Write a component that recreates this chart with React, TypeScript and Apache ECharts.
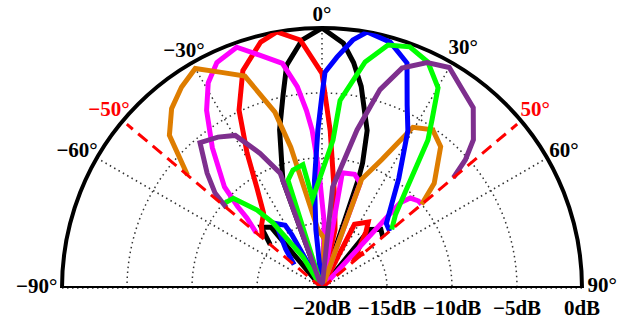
import React, { useEffect, useRef } from "react";
import * as echarts from "echarts";

// [angle (deg), level (dB)]
const blackPattern: number[][] = [
  [-50, -14.8], [-45, -13.4], [-40, -13.9], [-34, -20], [-25, -20], [-20, -11.2], [-15, -7.4],
  [-11.4, -4.85], [-9, -2.64], [-4.6, -0.86], [0, 0], [5, -1.1], [8, -2.5], [11, -4.2], [16, -7.4], [18, -9.9],
  [18.5, -11.2], [23, -20], [33, -20], [39, -14.2], [45, -13.6], [50, -13.9],
];
const redPattern: number[][] = [
  [-50, -14], [-44, -13.3], [-38, -12.7], [-33, -10.8], [-29, -8.1], [-25, -4.9], [-20, -2.2],
  [-14, -0.5], [-10, 0], [-5, -0.85], [0, -3.5], [3, -7.9], [8, -13], [12.6, -15.4], [16, -20],
  [22, -20], [27, -14.5], [35, -13.8], [38, -14.5], [47, -16.5], [50, -15.8],
];
const magentaPattern: number[][] = [
  [-50, -13.4], [-47, -12.1], [-46, -11], [-44, -9.2], [-38, -6.3], [-33, -3.7], [-29, -1.95],
  [-25, -0.86], [-19.5, -0.35], [-15, -1.46], [-10, -2.45], [-7, -4.4], [-5, -6.3], [-3.6, -7.8],
  [-1.5, -11], [2, -15], [4, -20], [10, -11], [16, -10.9], [20, -11.4], [27, -20], [37, -20],
  [42.5, -11.1], [44.5, -10.3], [48, -10], [50, -10],
];
const orangePattern: number[][] = [
  [-50, -6.5], [-45, -3.4], [-40, -2], [-35, -1.15], [-30, -0.5], [-25, -1.7], [-20, -2.65],
  [-15, -6], [-12.5, -8.9], [-4, -15.5], [3, -16.2], [8, -20], [15, -20], [20, -11.1],
  [25, -9.1], [29.5, -5.8], [35, -5.15], [40, -5.8], [47, -8.2], [50, -10],
];
const purplePattern: number[][] = [
  [-50, -10.4], [-48.4, -9], [-45, -7.5], [-40, -5.4], [-34.6, -5.9], [-29.6, -6.5],
  [-24.7, -8.6], [-20, -10.6], [-15, -20], [0, -20], [6, -12.2], [12.5, -7.55], [16.3, -4.1],
  [20, -2], [25, -0.87], [30, -0.42], [35, -1.26], [40, -1.9], [45.6, -3.7], [48.2, -5.2], [50, -6.8],
];
const bluePattern: number[][] = [
  [-50, -17.2], [-43, -15.9], [-35.5, -13.9], [-30.4, -14.4], [-29.5, -15.3], [-20, -20],
  [-10, -20], [-6, -15.5], [-4, -11.7], [-1.5, -7.85], [0, -5.15], [0.8, -3.4], [3.7, -2.2],
  [7.1, -0.77], [10, 0], [15.5, -0.37], [20.7, -1.5], [25, -4.5], [28.6, -6.2], [35, -9.7],
  [40, -11.7], [45, -13], [50, -13.2],
];
const greenPattern: number[][] = [
  [-50, -10], [-44.7, -10.3], [-39.8, -12.2], [-37, -13.7], [-31.5, -17.2], [-25, -20], [-20, -20],
  [-17.5, -11.3], [-13.8, -10.65], [-8.8, -10.4], [-6, -13.1], [4.25, -8.6], [5.5, -5.5],
  [10.8, -2.3], [15.2, -0.63], [20, -0.26], [25.1, -0.8], [30.1, -2.2], [33.2, -4.55],
  [35.6, -6], [40, -9.7], [45, -12], [50, -13],
];

const seriesColors = ["#000000", "#ff0000", "#ff00ff", "#de7d00", "#0000ff", "#00ff00", "#7e2f8e"];
const seriesData = [blackPattern, redPattern, magentaPattern, orangePattern, bluePattern, greenPattern, purplePattern];
const seriesNames = ["black", "red", "magenta", "orange", "blue", "green", "purple"];

const angleTicks = [-90, -60, -30, 0, 30, 60, 90];
const limitAngles = [-50, 50];
const limitTop = -0.4;
const dbMin = -20;
const dbMax = 0;
const dbStep = 5;
const angleMin = -90;
const angleMax = 90;
const angleStep = 30;
const labelRadiusDb = 1.4;

// small nudges of individual angle labels (px)
const labelNudge: Record<number, number[]> = {
  [-90]: [-7, -2], [-60]: [-4, 1], [-30]: [1, 3], [0]: [0, 4], [30]: [2, 0], [60]: [1, 1], [90]: [2, -3],
};

const FONT = "'Liberation Serif', 'Times New Roman', serif";
const minus = (v: number) => (v < 0 ? "\u2212" + Math.abs(v) : String(v));
const CENTER = [322, 288];
const RADIUS = 260;

export default function App() {
  const ref = useRef<HTMLDivElement>(null);
  useEffect(() => {
    document.body.style.margin = "0";
    const chart = echarts.init(ref.current!, null, { renderer: "svg" });
    const labelStyle = {
      fontFamily: FONT,
      fontWeight: "bold",
      fontSize: 21,
      color: "#000",
    };
    const curveSeries = seriesData.map((pts, i) => ({
      type: "line",
      name: seriesNames[i],
      coordinateSystem: "polar",
      polarIndex: 0,
      showSymbol: false,
      symbol: "none",
      clip: false,
      data: pts.map(([a, d]) => [d, a]),
      lineStyle: { color: seriesColors[i], width: 5, join: "miter" },
      z: 3 + i,
    }));
    const limitSeries = limitAngles.map((a) => ({
      type: "line",
      coordinateSystem: "polar",
      polarIndex: 0,
      symbol: "none",
      clip: false,
      data: [[dbMin, a], [limitTop, a]],
      lineStyle: { color: "#ff0000", width: 3, type: [12, 7] },
      z: 20,
    }));
    const angleLabelSeries = {
      type: "scatter",
      coordinateSystem: "polar",
      polarIndex: 0,
      symbolSize: 0,
      clip: false,
      silent: true,
      itemStyle: { opacity: 1 },
      data: angleTicks.map((a) => ({
        value: [labelRadiusDb, a],
        label: { offset: labelNudge[a] || [0, 0] },
      })),
      label: {
        show: true,
        position: "inside",
        opacity: 1,
        ...labelStyle,
        formatter: (p: any) => minus(p.value[1]) + "°",
      },
      z: 30,
    };
    const limitLabelSeries = {
      type: "scatter",
      coordinateSystem: "polar",
      polarIndex: 0,
      symbolSize: 0,
      clip: false,
      silent: true,
      itemStyle: { opacity: 1 },
      data: limitAngles.map((a) => [labelRadiusDb, a]),
      label: {
        show: true,
        position: "inside",
        opacity: 1,
        ...labelStyle,
        color: "#ff0000",
        formatter: (p: any) => minus(p.value[1]) + "°",
      },
      z: 30,
    };
    chart.setOption({
      animation: false,
      backgroundColor: "#ffffff",
      polar: [
        { center: CENTER, radius: RADIUS },
        { center: CENTER, radius: RADIUS },
      ],
      angleAxis: [
        {
          polarIndex: 0,
          type: "value",
          min: angleMin,
          max: angleMax,
          interval: angleStep,
          startAngle: 180,
          endAngle: 0,
          clockwise: true,
          axisLine: { lineStyle: { color: "#000", width: 4 } },
          axisTick: { show: false },
          axisLabel: { show: false },
          splitLine: { lineStyle: { color: "#333", type: [1.5, 3.5], width: 1.5 } },
          z: 1,
        },
        {
          polarIndex: 1,
          type: "value",
          min: angleMin,
          max: angleMax,
          startAngle: 0,
          endAngle: 180,
          clockwise: false,
          show: false,
        },
      ],
      radiusAxis: [
        {
          polarIndex: 0,
          type: "value",
          min: dbMin,
          max: dbMax,
          interval: dbStep,
          axisLine: { show: false },
          axisTick: { show: false },
          axisLabel: { show: false },
          splitLine: { lineStyle: { color: "#333", type: [1.5, 3.5], width: 1.5 } },
          z: 1,
        },
        {
          polarIndex: 1,
          type: "value",
          min: dbMin,
          max: dbMax,
          interval: dbStep,
          axisLine: { show: false },
          axisTick: { show: false },
          splitLine: { show: false },
          axisLabel: { ...labelStyle, formatter: (v: number) => minus(v) + "dB", margin: -30 },
        },
      ],
      series: [
        ...curveSeries,
        ...limitSeries,
        {
          type: "line",
          coordinateSystem: "polar",
          polarIndex: 0,
          symbol: "none",
          clip: false,
          data: [[dbMax, angleMin], [dbMax, angleMax]],
          lineStyle: { color: "#000", width: 4 },
          z: 25,
        },
        angleLabelSeries,
        limitLabelSeries,
      ],
    });
    return () => chart.dispose();
  }, []);
  return <div ref={ref} style={{ position: "absolute", left: 0, top: 0, width: 629, height: 323 }} />;
}
